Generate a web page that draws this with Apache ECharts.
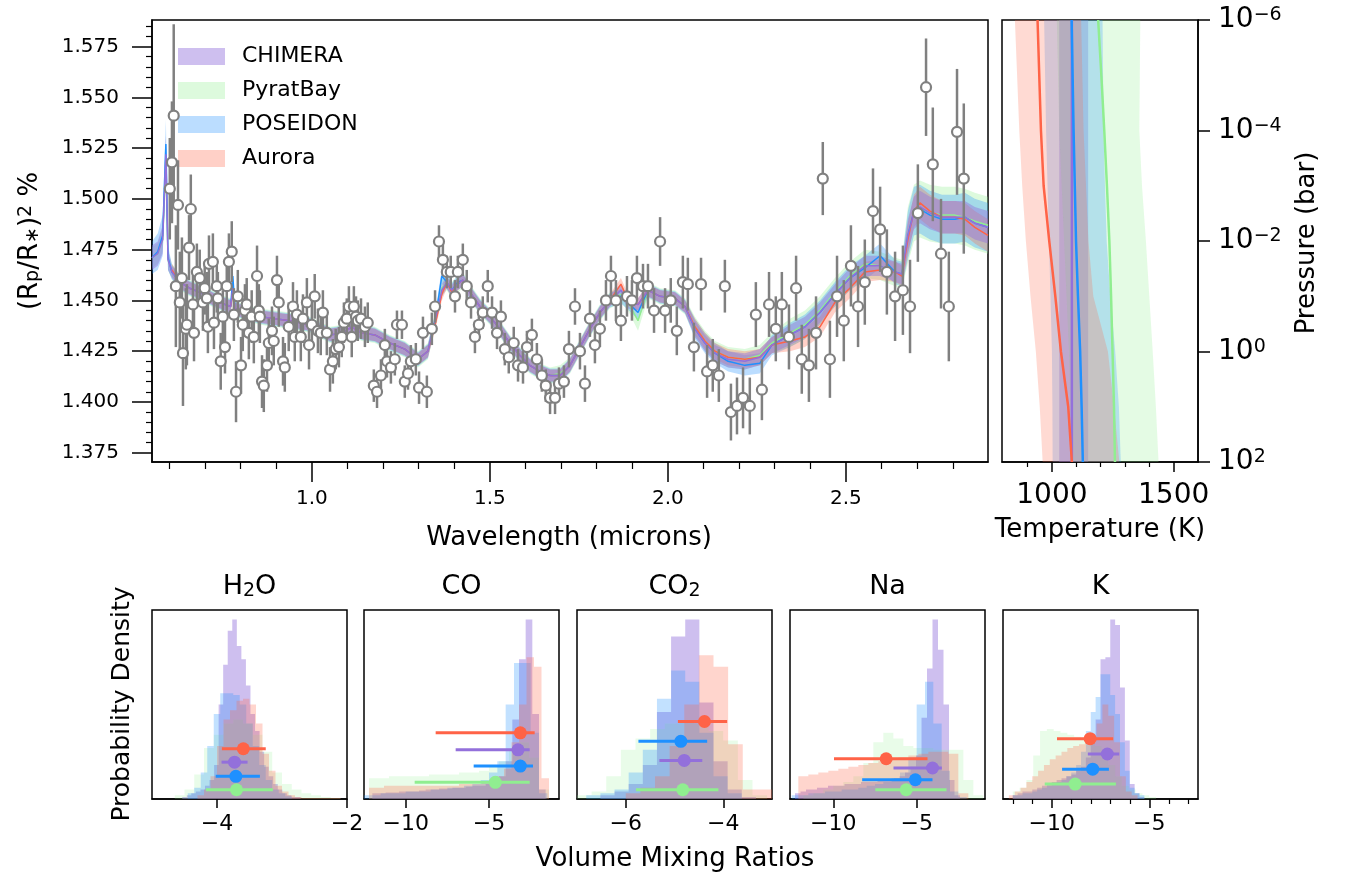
<!DOCTYPE html>
<html>
<head>
<meta charset="utf-8">
<title>Retrieval comparison</title>
<script src="https://cdn.jsdelivr.net/npm/echarts@6/dist/echarts.min.js"></script>
<style>
  html, body { margin: 0; padding: 0; background: #fff; }
  #chart { width: 1351px; height: 881px; }
</style>
</head>
<body>
<div id="chart"></div>
<script>
// ---- observed transmission spectrum ----
const obsWave = [
  0.601,0.607,0.612,0.618,0.624,0.629,0.635,0.638,0.646,0.649,
  0.655,0.660,0.666,0.669,0.677,0.685,0.694,0.699,0.705,0.708,
  0.711,0.722,0.725,0.733,0.736,0.744,0.750,0.756,0.761,0.767,
  0.775,0.781,0.787,0.792,0.801,0.806,0.812,0.817,0.823,0.831,
  0.837,0.846,0.851,0.854,0.860,0.865,0.874,0.879,0.888,0.893,
  0.902,0.907,0.919,0.924,0.935,0.947,0.952,0.958,0.969,0.975,
  0.986,0.992,1.000,1.008,1.017,1.025,1.031,1.042,1.051,1.059,
  1.067,1.076,1.084,1.090,1.098,1.104,1.112,1.118,1.124,1.129,
  1.138,1.149,1.157,1.174,1.183,1.194,1.205,1.211,1.222,1.233,
  1.239,1.253,1.261,1.270,1.278,1.292,1.301,1.312,1.323,1.337,
  1.346,1.357,1.368,1.379,1.390,1.402,1.410,1.424,1.435,1.447,
  1.458,1.469,1.480,1.494,1.506,1.520,1.531,1.542,1.553,1.567,
  1.579,1.593,1.604,1.618,1.632,1.646,1.657,1.669,1.683,1.694,
  1.708,1.722,1.739,1.753,1.767,1.781,1.795,1.809,1.826,1.840,
  1.854,1.868,1.885,1.899,1.913,1.930,1.944,1.961,1.978,1.992,
  2.008,2.025,2.042,2.056,2.073,2.093,2.110,2.126,2.143,2.160,
  2.177,2.194,2.211,2.230,2.247,2.264,2.284,2.303,2.320,2.340,
  2.360,2.376,2.396,2.416,2.435,2.455,2.475,2.494,2.514,2.534,
  2.553,2.576,2.596,2.615,2.638,2.660,2.680,2.702,2.725,2.744,
  2.767,2.789,2.812,2.831
];
const obsDepth = [
  1.505,1.518,1.541,1.457,1.497,1.449,1.461,1.424,1.436,1.438,
  1.476,1.495,1.448,1.434,1.464,1.461,1.449,1.456,1.451,1.437,
  1.468,1.469,1.439,1.457,1.451,1.420,1.442,1.427,1.457,1.469,
  1.474,1.443,1.405,1.452,1.418,1.438,1.445,1.448,1.434,1.442,
  1.432,1.462,1.445,1.442,1.410,1.408,1.418,1.429,1.435,1.430,
  1.460,1.449,1.420,1.417,1.437,1.447,1.432,1.443,1.432,1.441,
  1.449,1.428,1.438,1.452,1.435,1.434,1.444,1.434,1.416,1.420,
  1.426,1.427,1.432,1.439,1.441,1.447,1.432,1.447,1.442,1.440,
  1.441,1.437,1.439,1.408,1.405,1.413,1.428,1.420,1.417,1.421,
  1.438,1.438,1.410,1.414,1.420,1.421,1.407,1.434,1.405,1.436,
  1.447,1.479,1.470,1.464,1.464,1.452,1.464,1.470,1.457,1.449,
  1.432,1.438,1.444,1.457,1.444,1.434,1.442,1.426,1.422,1.429,
  1.418,1.417,1.427,1.433,1.421,1.413,1.408,1.402,1.402,1.409,
  1.410,1.426,1.447,1.425,1.409,1.441,1.428,1.436,1.450,1.462,
  1.450,1.440,1.452,1.450,1.461,1.457,1.457,1.445,1.479,1.445,
  1.450,1.435,1.459,1.458,1.427,1.458,1.415,1.418,1.413,1.457,
  1.395,1.398,1.402,1.398,1.443,1.406,1.448,1.436,1.448,1.432,
  1.456,1.421,1.418,1.434,1.510,1.421,1.452,1.440,1.467,1.447,
  1.459,1.494,1.485,1.464,1.452,1.455,1.447,1.493,1.555,1.517,
  1.473,1.447,1.533,1.510
];
const obsErr = [
  0.025,0.030,0.045,0.030,0.022,0.025,0.020,0.026,0.020,0.020,
  0.016,0.017,0.015,0.014,0.014,0.014,0.014,0.013,0.013,0.013,
  0.014,0.014,0.013,0.013,0.013,0.014,0.013,0.013,0.014,0.014,
  0.015,0.013,0.015,0.013,0.014,0.013,0.013,0.013,0.013,0.013,
  0.013,0.015,0.013,0.013,0.013,0.013,0.013,0.012,0.012,0.012,
  0.012,0.012,0.012,0.012,0.012,0.012,0.012,0.012,0.012,0.012,
  0.012,0.012,0.012,0.011,0.011,0.011,0.011,0.011,0.011,0.011,
  0.010,0.010,0.010,0.010,0.010,0.010,0.010,0.010,0.010,0.010,
  0.010,0.010,0.010,0.008,0.008,0.008,0.008,0.008,0.008,0.008,
  0.007,0.007,0.008,0.008,0.008,0.008,0.008,0.008,0.008,0.008,
  0.008,0.008,0.008,0.008,0.008,0.008,0.008,0.008,0.008,0.008,
  0.008,0.008,0.008,0.008,0.008,0.008,0.008,0.008,0.008,0.008,
  0.008,0.008,0.008,0.008,0.008,0.008,0.008,0.008,0.008,0.008,
  0.008,0.009,0.009,0.009,0.009,0.009,0.009,0.009,0.010,0.010,
  0.010,0.010,0.010,0.010,0.011,0.011,0.011,0.011,0.012,0.011,
  0.011,0.012,0.013,0.013,0.012,0.013,0.013,0.013,0.013,0.013,
  0.014,0.014,0.015,0.014,0.016,0.015,0.016,0.016,0.016,0.016,
  0.016,0.017,0.018,0.018,0.018,0.019,0.020,0.020,0.020,0.020,
  0.021,0.021,0.021,0.021,0.022,0.022,0.023,0.024,0.024,0.028,
  0.027,0.027,0.031,0.037
];

// ---- retrieved model spectra (median and 1-sigma half width) ----
const modelWave = [
  0.551,0.567,0.581,0.590,0.596,0.607,0.629,0.657,0.685,0.719,
  0.756,0.772,0.778,0.784,0.812,0.854,0.896,0.938,0.994,1.051,
  1.087,1.112,1.140,1.177,1.219,1.261,1.298,1.326,1.346,1.365,
  1.379,1.393,1.410,1.424,1.444,1.472,1.500,1.528,1.556,1.584,
  1.612,1.640,1.669,1.697,1.725,1.753,1.781,1.809,1.837,1.868,
  1.888,1.916,1.944,1.978,2.020,2.048,2.076,2.104,2.132,2.169,
  2.216,2.258,2.292,2.343,2.385,2.427,2.469,2.511,2.553,2.596,
  2.638,2.657,2.674,2.691,2.708,2.736,2.770,2.806,2.834,2.862,
  2.899
];
const chimeraMid = [
  1.471,1.473,1.480,1.522,1.470,1.464,1.459,1.456,1.454,1.451,
  1.448,1.447,1.456,1.446,1.444,1.442,1.441,1.440,1.438,1.433,
  1.434,1.437,1.434,1.433,1.429,1.426,1.421,1.425,1.440,1.455,
  1.459,1.455,1.458,1.460,1.454,1.447,1.442,1.436,1.429,1.423,
  1.418,1.415,1.413,1.413,1.418,1.427,1.436,1.444,1.450,1.455,
  1.449,1.448,1.455,1.452,1.451,1.447,1.436,1.429,1.424,1.421,
  1.420,1.422,1.428,1.433,1.437,1.444,1.453,1.461,1.467,1.467,
  1.464,1.463,1.482,1.493,1.496,1.493,1.491,1.491,1.491,1.488,
  1.486
];
const pyratMid = [
  1.471,1.473,1.480,1.518,1.470,1.464,1.459,1.456,1.454,1.451,
  1.448,1.447,1.455,1.446,1.444,1.442,1.441,1.440,1.438,1.433,
  1.434,1.437,1.434,1.433,1.429,1.426,1.421,1.425,1.440,1.456,
  1.459,1.455,1.458,1.460,1.454,1.447,1.442,1.436,1.429,1.423,
  1.418,1.415,1.413,1.414,1.418,1.427,1.436,1.444,1.450,1.453,
  1.449,1.440,1.455,1.452,1.451,1.447,1.437,1.430,1.425,1.422,
  1.421,1.423,1.429,1.434,1.438,1.445,1.454,1.462,1.468,1.467,
  1.464,1.463,1.482,1.493,1.495,1.493,1.492,1.492,1.491,1.489,
  1.487
];
const poseidonMid = [
  1.471,1.474,1.482,1.527,1.471,1.464,1.459,1.456,1.454,1.451,
  1.448,1.447,1.462,1.446,1.444,1.442,1.441,1.440,1.438,1.433,
  1.434,1.437,1.434,1.433,1.429,1.426,1.421,1.425,1.440,1.462,
  1.459,1.455,1.459,1.460,1.454,1.447,1.442,1.436,1.429,1.423,
  1.418,1.415,1.413,1.413,1.418,1.427,1.436,1.444,1.450,1.452,
  1.449,1.444,1.455,1.452,1.451,1.447,1.436,1.429,1.424,1.420,
  1.418,1.419,1.428,1.433,1.437,1.444,1.453,1.461,1.466,1.472,
  1.464,1.463,1.482,1.494,1.495,1.492,1.490,1.490,1.491,1.488,
  1.486
];
const auroraMid = [
  null,null,null,null,null,1.465,1.459,1.456,1.454,1.451,
  1.448,1.447,1.454,1.446,1.444,1.442,1.441,1.440,1.438,1.433,
  1.434,1.437,1.434,1.433,1.429,1.426,1.421,1.425,1.438,1.453,
  1.459,1.454,1.458,1.460,1.454,1.447,1.442,1.436,1.429,1.423,
  1.418,1.415,1.413,1.413,1.418,1.427,1.436,1.444,1.450,1.458,
  1.450,1.448,1.455,1.452,1.451,1.447,1.437,1.430,1.425,1.422,
  1.421,1.422,1.428,1.430,1.432,1.437,1.449,1.456,1.464,1.465,
  1.464,1.462,1.480,1.494,1.498,1.494,1.491,1.491,1.490,1.486,
  1.482
];
const chimeraW = [
  0.006,0.006,0.007,0.009,0.005,0.003,0.003,0.003,0.003,0.003,
  0.003,0.003,0.003,0.003,0.003,0.003,0.003,0.003,0.003,0.003,
  0.003,0.003,0.003,0.003,0.003,0.003,0.003,0.003,0.003,0.003,
  0.003,0.003,0.003,0.003,0.003,0.003,0.003,0.003,0.003,0.003,
  0.003,0.003,0.003,0.003,0.003,0.003,0.003,0.003,0.003,0.003,
  0.003,0.003,0.003,0.003,0.003,0.003,0.004,0.004,0.004,0.004,
  0.004,0.004,0.004,0.005,0.005,0.005,0.005,0.005,0.005,0.005,
  0.005,0.005,0.008,0.008,0.008,0.008,0.008,0.008,0.008,0.008,
  0.008
];
const pyratW = [
  0.005,0.005,0.006,0.008,0.005,0.004,0.004,0.004,0.004,0.004,
  0.004,0.004,0.004,0.004,0.004,0.004,0.004,0.004,0.004,0.004,
  0.004,0.004,0.004,0.004,0.004,0.004,0.004,0.004,0.004,0.004,
  0.004,0.004,0.004,0.004,0.004,0.004,0.004,0.004,0.004,0.004,
  0.004,0.004,0.004,0.004,0.004,0.004,0.004,0.004,0.004,0.004,
  0.004,0.005,0.004,0.004,0.004,0.004,0.005,0.005,0.005,0.005,
  0.005,0.005,0.005,0.007,0.007,0.007,0.007,0.007,0.007,0.007,
  0.007,0.007,0.014,0.014,0.014,0.014,0.014,0.014,0.014,0.014,
  0.014
];
const poseidonW = [
  0.008,0.009,0.010,0.012,0.006,0.0035,0.0035,0.0035,0.0035,0.0035,
  0.0035,0.0035,0.0035,0.0035,0.0035,0.0035,0.0035,0.0035,0.0035,0.0035,
  0.0035,0.0035,0.0035,0.0035,0.0035,0.0035,0.0035,0.0035,0.0035,0.0035,
  0.0035,0.0035,0.0035,0.0035,0.0035,0.0035,0.0035,0.0035,0.0035,0.0035,
  0.0035,0.0035,0.0035,0.0035,0.0035,0.0035,0.0035,0.0035,0.0035,0.0035,
  0.0035,0.0035,0.0035,0.0035,0.0035,0.0035,0.005,0.005,0.005,0.005,
  0.005,0.005,0.005,0.006,0.006,0.006,0.006,0.006,0.006,0.006,
  0.006,0.006,0.012,0.012,0.012,0.012,0.012,0.012,0.012,0.012,
  0.012
];
const auroraW = [
  null,null,null,null,null,0.003,0.003,0.003,0.003,0.003,
  0.003,0.003,0.003,0.003,0.003,0.003,0.003,0.003,0.003,0.003,
  0.003,0.003,0.003,0.003,0.003,0.003,0.003,0.003,0.003,0.003,
  0.003,0.003,0.003,0.003,0.003,0.003,0.003,0.003,0.003,0.003,
  0.003,0.003,0.003,0.003,0.003,0.003,0.003,0.003,0.003,0.003,
  0.003,0.003,0.003,0.003,0.003,0.003,0.004,0.004,0.004,0.004,
  0.004,0.004,0.004,0.005,0.005,0.005,0.005,0.005,0.005,0.005,
  0.005,0.005,0.008,0.008,0.008,0.008,0.008,0.008,0.008,0.008,
  0.008
];

// ---- temperature-pressure profiles (log10 P in bar) ----
const tpLogP = [-6, -5, -4, -3, -2, -1, 0, 1, 2];
const chimeraT   = [1082, 1082, 1082, 1082, 1082, 1082, 1082, 1082, 1082];
const chimeraTLo = [1030, 1030, 1030, 1030, 1030, 1030, 1030, 1030, 1030];
const chimeraTHi = [1149, 1149, 1149, 1149, 1149, 1149, 1149, 1149, 1149];
const pyratT     = [1190, 1203, 1215, 1226, 1236, 1243, 1249, 1255, 1259];
const pyratTLo   = [1020, 1025, 1030, 1040, 1050, 1060, 1070, 1075, 1080];
const pyratTHi   = [1363, 1361, 1359, 1370, 1386, 1400, 1414, 1427, 1438];
const poseidonT  = [1081, 1085, 1089, 1094, 1099, 1107, 1116, 1122, 1127];
const poseidonTLo = [968, 972, 976, 982, 988, 994, 1000, 1002, 1003];
const poseidonTHi = [1208, 1210, 1212, 1218, 1225, 1240, 1260, 1275, 1283];
const auroraT    = [941, 948, 955, 966, 989, 1014, 1037, 1067, 1082];
const auroraTLo  = [848, 857, 866, 878, 893, 912, 934, 950, 962];
const auroraTHi  = [1120, 1125, 1130, 1140, 1150, 1170, 1230, 1255, 1277];

// ---- posterior histograms: [first edge, bin width] + heights (fraction of panel) ----
// order inside each panel: CHIMERA, PyratBay, POSEIDON, Aurora
const h2oBins = [[-4.535, 0.07], [-4.65, 0.15], [-4.45, 0.1], [-4.3, 0.1]];
const h2oChimera = [0.01,0.02,0.03,0.04,0.05,0.07,0.10,0.18,0.50,0.71,0.89,0.95,0.81,0.74,0.60,0.45,0.36,0.25,0.17,0.12,0.08,0.05,0.03,0.02,0.01,0.01];
const h2oPyrat = [0.02,0.05,0.13,0.27,0.34,0.40,0.42,0.40,0.34,0.25,0.14,0.08,0.05,0.03,0.02,0.01,0.005];
const h2oPoseidon = [0.03,0.06,0.14,0.28,0.45,0.56,0.56,0.55,0.50,0.40,0.28,0.18,0.10,0.05,0.03,0.015];
const h2oAurora = [0.02,0.05,0.12,0.28,0.42,0.47,0.52,0.53,0.50,0.40,0.24,0.15,0.07,0.04,0.02,0.01,0.005,0.005,0.005,0.005,0.005,0.005];
const h2oMarks = [[-3.73, -3.93, -3.53, 0.195], [-3.70, -4.17, -3.14, 0.049], [-3.71, -4.02, -3.34, 0.12], [-3.595, -3.925, -3.25, 0.266]];

const coBins = [[-12.0, 0.4], [-12.2, 0.6], [-12.5, 0.5], [-12.2, 0.45]];
const coChimera = [0.03,0.03,0.035,0.035,0.04,0.04,0.04,0.045,0.05,0.05,0.055,0.055,0.06,0.06,0.065,0.07,0.07,0.08,0.10,0.12,0.20,0.42,0.74,0.95,0.45,0.05];
const coPyrat = [0.11,0.11,0.12,0.12,0.12,0.12,0.13,0.13,0.13,0.14,0.14,0.15,0.17,0.20,0.26,0.30,0.22,0.05];
const coPoseidon = [0.02,0.02,0.03,0.03,0.03,0.04,0.04,0.04,0.05,0.05,0.06,0.06,0.07,0.08,0.10,0.14,0.20,0.50,0.72,0.72,0.35,0.03];
const coAurora = [0.06,0.06,0.07,0.07,0.07,0.07,0.07,0.07,0.07,0.07,0.07,0.07,0.08,0.08,0.08,0.09,0.10,0.12,0.16,0.30,0.50,0.75,0.70,0.11];
const coMarks = [[-3.26, -7.0, -2.56, 0.26], [-4.62, -9.46, -2.56, 0.088], [-3.12, -5.92, -2.36, 0.174], [-3.12, -8.2, -2.26, 0.35]];

const co2Bins = [[-6.52, 0.29], [-7.0, 0.3], [-6.81, 0.29], [-6.0, 0.3]];
const co2Chimera = [0.02,0.04,0.08,0.18,0.46,0.86,0.95,0.51,0.20,0.05,0.01];
const co2Pyrat = [0.02,0.04,0.12,0.26,0.32,0.37,0.40,0.41,0.40,0.36,0.31,0.10,0.02];
const co2Poseidon = [0.02,0.03,0.05,0.14,0.26,0.53,0.68,0.62,0.35,0.12,0.03];
const co2Aurora = [0.03,0.06,0.12,0.28,0.50,0.76,0.70,0.29,0.05,0.05];
const co2Marks = [[-4.80, -5.31, -4.43, 0.204], [-4.83, -5.79, -4.10, 0.049], [-4.87, -5.74, -4.33, 0.305], [-4.385, -4.93, -3.92, 0.41]];

const naBins = [[-12.3, 0.33], [-11.8, 0.6], [-12.5, 0.5], [-12.1, 0.6]];
const naChimera = [0.03,0.04,0.05,0.05,0.06,0.06,0.07,0.07,0.07,0.08,0.08,0.08,0.09,0.09,0.09,0.10,0.10,0.10,0.11,0.12,0.14,0.17,0.23,0.43,0.69,0.95,0.79,0.50,0.10,0.02];
const naPyrat = [0.02,0.03,0.05,0.07,0.09,0.12,0.19,0.30,0.35,0.32,0.28,0.27,0.27,0.26,0.26,0.26,0.10,0.02];
const naPoseidon = [0.02,0.02,0.03,0.03,0.04,0.04,0.05,0.05,0.06,0.07,0.08,0.09,0.11,0.14,0.22,0.50,0.62,0.40,0.15,0.04,0.01];
const naAurora = [0.12,0.13,0.14,0.15,0.16,0.17,0.18,0.19,0.20,0.21,0.22,0.23,0.24,0.25,0.25,0.24,0.03];
const naMarks = [[-4.05, -6.39, -3.49, 0.164], [-5.63, -7.48, -3.21, 0.049], [-5.08, -8.27, -4.05, 0.102], [-6.83, -9.96, -4.35, 0.213]];

const kBins = [[-12.0, 0.25], [-12.0, 0.35], [-12.0, 0.25], [-12.2, 0.3]];
const kChimera = [0.02,0.03,0.04,0.04,0.05,0.06,0.07,0.08,0.09,0.10,0.11,0.12,0.13,0.15,0.17,0.22,0.30,0.42,0.74,0.75,0.95,0.92,0.59,0.31,0.08,0.03,0.01];
const kPyrat = [0.04,0.06,0.10,0.23,0.36,0.37,0.36,0.35,0.34,0.33,0.32,0.30,0.28,0.24,0.18,0.12,0.07,0.05,0.03,0.02,0.01];
const kPoseidon = [0.02,0.02,0.03,0.03,0.04,0.05,0.06,0.07,0.08,0.09,0.10,0.12,0.14,0.18,0.25,0.36,0.46,0.54,0.66,0.66,0.55,0.45,0.30,0.15,0.06,0.03,0.02];
const kAurora = [0.02,0.04,0.06,0.09,0.12,0.15,0.18,0.21,0.23,0.25,0.27,0.28,0.29,0.30,0.33,0.40,0.50,0.44,0.30,0.12,0.04,0.02];
const kMarks = [[-7.15, -8.15, -6.54, 0.238], [-8.8, -10.36, -6.71, 0.079], [-7.9, -9.47, -7.07, 0.158], [-8.03, -9.73, -6.85, 0.319]];

// ---- labels / ticks ----
const modelNames = ['CHIMERA', 'PyratBay', 'POSEIDON', 'Aurora'];
const modelColors = ['#9370DB', '#90EE90', '#1E90FF', '#FF6347'];
const fillAlpha = [0.45, 0.3, 0.3, 0.3];
const histAlpha = [0.45, 0.2, 0.27, 0.27];
const histTitles = ['H{sub|2}O', 'CO', 'CO{sub|2}', 'Na', 'K'];
const histRanges = [[-5, -2], [-12.5, -0.8], [-7, -3], [-12.6, -0.9], [-12.5, -2.5]];
const histTicks = [[-4, -2], [-10, -5], [-6, -4], [-10, -5], [-10, -5]];
const kMinorTicks = [-12, -11, -9, -8, -7, -6, -4, -3];
const waveTicks = [1.0, 1.5, 2.0, 2.5];
const waveMinor = [0.6, 0.7, 0.8, 0.9, 1.1, 1.2, 1.3, 1.4, 1.6, 1.7, 1.8, 1.9, 2.1, 2.2, 2.3, 2.4, 2.6, 2.7, 2.8];
const depthTicks = [1.375, 1.400, 1.425, 1.450, 1.475, 1.500, 1.525, 1.550, 1.575];
const tempTicks = [1000, 1500];
const tempMinor = [900, 1100, 1200, 1300, 1400];
const pressTicks = [-6, -4, -2, 0, 2];

const FONT = 'DejaVu Sans';
const chart = echarts.init(document.getElementById('chart'));

function rgba(hex, a) {
  const n = parseInt(hex.slice(1), 16);
  return 'rgba(' + (n >> 16) + ',' + ((n >> 8) & 255) + ',' + (n & 255) + ',' + a + ')';
}
const minus = v => (v < 0 ? '\u2212' : '') + Math.abs(v);

// minor ticks between depth labels, every 0.005
const depthMinor = [];
for (let k = 0; k <= 42; k++) {
  const v = +(1.375 + k * 0.005).toFixed(3);
  if (k % 5 !== 0 && v < 1.588) depthMinor.push(v);
}

// grids
const grid = [
  { left: 152, top: 20, width: 836, height: 442 },
  { left: 1002, top: 20, width: 196, height: 442 }
];
const histLeft = [152, 364, 577, 790, 1003];
histLeft.forEach(l => grid.push({ left: l, top: 610, width: 195, height: 189 }));
grid.forEach(g => Object.assign(g, { show: true, borderColor: '#000', borderWidth: 1.5 }));

function axis(gridIndex, min, max, ticks, tickLen, fontSize, margin, fmt, extra) {
  return Object.assign({
    type: 'value', gridIndex, min, max,
    axisLine: { show: true, onZero: false, lineStyle: { color: '#000', width: 1.5 } },
    axisTick: { show: true, customValues: ticks, length: tickLen, lineStyle: { color: '#000', width: 1.5 } },
    axisLabel: { show: !!fmt, customValues: ticks, formatter: fmt, fontSize, margin, color: '#000', fontFamily: FONT },
    splitLine: { show: false }
  }, extra || {});
}
function minorAxis(gridIndex, min, max, ticks, position, len) {
  return {
    type: 'value', gridIndex, min, max, position,
    axisLine: { show: false, onZero: false }, axisLabel: { show: false },
    axisTick: { show: true, customValues: ticks, length: len || 6, lineStyle: { color: '#000', width: 1.2 } },
    splitLine: { show: false }
  };
}

const xAxis = [
  axis(0, 0.551, 2.899, waveTicks, 20, 20, 27, v => v.toFixed(1), { position: 'bottom' }),
  minorAxis(0, 0.551, 2.899, waveMinor, 'bottom', 7),
  axis(1, 795, 1600, tempTicks, 10, 28, 20, v => String(v), { position: 'bottom' }),
  minorAxis(1, 795, 1600, tempMinor, 'bottom', 5)
];
histRanges.forEach((r, i) => {
  xAxis.push(axis(2 + i, r[0], r[1], histTicks[i], 9, 22, 14, minus, { position: 'bottom' }));
});
xAxis.push(minorAxis(6, -12.5, -2.5, kMinorTicks, 'bottom', 5));

const yAxis = [
  axis(0, 1.3704, 1.5881, depthTicks, 20, 20, 33, v => v.toFixed(3), { position: 'left' }),
  minorAxis(0, 1.3704, 1.5881, depthMinor, 'left', 6),
  axis(1, -6, 2, pressTicks, 12, 28, 20, v => '10{sup|' + minus(v) + '}', {
    position: 'right', inverse: true
  })
];
yAxis[2].axisLabel.rich = { sup: { fontSize: 19, fontFamily: FONT, color: '#000', verticalAlign: 'top' } };
for (let i = 0; i < 5; i++) {
  yAxis.push({ type: 'value', gridIndex: 2 + i, min: 0, max: 1, axisLine: { show: false },
    axisTick: { show: false }, axisLabel: { show: false }, splitLine: { show: false } });
}

function polygonSeries(name, xi, yi, outline, fill, z) {
  return {
    type: 'custom', name, xAxisIndex: xi, yAxisIndex: yi, z, silent: true, clip: true,
    data: [outline[0]],
    renderItem: (params, api) => ({
      type: 'polygon',
      shape: { points: outline.map(p => api.coord(p)) },
      style: { fill }
    })
  };
}

const series = [];

// spectrum bands + medians
const mids = [chimeraMid, pyratMid, poseidonMid, auroraMid];
const widths = [chimeraW, pyratW, poseidonW, auroraW];
[1, 2, 3, 0].forEach((m, k) => {
  const lo = [], hi = [];
  modelWave.forEach((w, i) => {
    if (mids[m][i] == null) return;
    lo.push([w, mids[m][i] - widths[m][i]]);
    hi.push([w, mids[m][i] + widths[m][i]]);
  });
  series.push(polygonSeries(modelNames[m], 0, 0, lo.concat(hi.reverse()), rgba(modelColors[m], fillAlpha[m]), 2 + k));
});
[1, 2, 3, 0].forEach(m => {
  const pts = [];
  modelWave.forEach((w, i) => { if (mids[m][i] != null) pts.push([w, mids[m][i]]); });
  series.push({
    type: 'line', name: modelNames[m], xAxisIndex: 0, yAxisIndex: 0, z: 7, silent: true,
    data: pts, showSymbol: false, symbol: 'none',
    lineStyle: { color: modelColors[m], width: 1.5 }
  });
});

// observations
series.push({
  type: 'custom', xAxisIndex: 0, yAxisIndex: 0, z: 9, silent: true, clip: true,
  data: obsWave.map((w, i) => [w, obsDepth[i] - obsErr[i], obsDepth[i] + obsErr[i]]),
  encode: { x: 0, y: [1, 2] },
  renderItem: (params, api) => {
    const a = api.coord([api.value(0), api.value(1)]);
    const b = api.coord([api.value(0), api.value(2)]);
    return { type: 'line', shape: { x1: a[0], y1: a[1], x2: b[0], y2: b[1] },
      style: { stroke: '#808080', lineWidth: 2.5 } };
  }
});
series.push({
  type: 'scatter', xAxisIndex: 0, yAxisIndex: 0, z: 10, silent: true,
  data: obsWave.map((w, i) => [w, obsDepth[i]]),
  symbol: 'circle', symbolSize: 10,
  itemStyle: { color: '#fff', borderColor: '#808080', borderWidth: 2.2, opacity: 1 }
});

// T-P panel
const tpMid = [chimeraT, pyratT, poseidonT, auroraT];
const tpLo = [chimeraTLo, pyratTLo, poseidonTLo, auroraTLo];
const tpHi = [chimeraTHi, pyratTHi, poseidonTHi, auroraTHi];
modelNames.forEach((name, m) => {
  const lo = tpLogP.map((p, i) => [tpLo[m][i], p]);
  const hi = tpLogP.map((p, i) => [tpHi[m][i], p]).reverse();
  series.push(polygonSeries(name, 2, 2, lo.concat(hi), rgba(modelColors[m], fillAlpha[m] * 0.8), 2 + m));
});
modelNames.forEach((name, m) => {
  series.push({
    type: 'line', name, xAxisIndex: 2, yAxisIndex: 2, z: 7 + m, silent: true,
    data: tpLogP.map((p, i) => [tpMid[m][i], p]), showSymbol: false, symbol: 'none',
    lineStyle: { color: modelColors[m], width: 2.5 }
  });
});

// histograms
const histData = [
  [h2oBins, [h2oChimera, h2oPyrat, h2oPoseidon, h2oAurora], h2oMarks],
  [coBins, [coChimera, coPyrat, coPoseidon, coAurora], coMarks],
  [co2Bins, [co2Chimera, co2Pyrat, co2Poseidon, co2Aurora], co2Marks],
  [naBins, [naChimera, naPyrat, naPoseidon, naAurora], naMarks],
  [kBins, [kChimera, kPyrat, kPoseidon, kAurora], kMarks]
];
histData.forEach((panel, p) => {
  const xi = 4 + p, yi = 3 + p;
  const bins = panel[0], heights = panel[1], marks = panel[2];
  modelNames.forEach((name, m) => {
    const s = bins[m][0], bw = bins[m][1];
    const pts = [[s, 0]];
    heights[m].forEach((h, i) => { pts.push([s + i * bw, h]); pts.push([s + (i + 1) * bw, h]); });
    pts.push([s + heights[m].length * bw, 0]);
    series.push(polygonSeries(name, xi, yi, pts, rgba(modelColors[m], histAlpha[m]), 2 + m));
  });
  modelNames.forEach((name, m) => {
    const color = modelColors[m];
    series.push({
      type: 'custom', name, xAxisIndex: xi, yAxisIndex: yi, z: 10, silent: true,
      data: [marks[m]], encode: { x: [0, 1, 2], y: 3 },
      renderItem: (params, api) => {
        const c = api.coord([api.value(0), api.value(3)]);
        const a = api.coord([api.value(1), api.value(3)]);
        const b = api.coord([api.value(2), api.value(3)]);
        return { type: 'group', children: [
          { type: 'line', shape: { x1: a[0], y1: a[1], x2: b[0], y2: b[1] }, style: { stroke: color, lineWidth: 3 } },
          { type: 'circle', shape: { cx: c[0], cy: c[1], r: 6.5 }, style: { fill: color } }
        ] };
      }
    });
  });
});

function label(x, y, text, size, rot, rich) {
  return {
    type: 'text', x, y, rotation: rot || 0, silent: true,
    style: {
      text, fontSize: size, fontFamily: FONT, fill: '#000',
      align: 'center', verticalAlign: 'middle', textAlign: 'center', textVerticalAlign: 'middle',
      rich: rich || {}
    }
  };
}
const subSup = {
  sub: { fontSize: 19, fontFamily: FONT, fill: '#000', color: '#000', verticalAlign: 'bottom' },
  sup: { fontSize: 19, fontFamily: FONT, fill: '#000', color: '#000', verticalAlign: 'top' }
};
const graphic = [
  label(30, 241, '(R{sub|p}/R{sub|\u2217}){sup|2} %', 26, Math.PI / 2, subSup),
  label(569, 538, 'Wavelength (microns)', 26),
  label(1100, 530, 'Temperature (K)', 26),
  label(1307, 243, 'Pressure (bar)', 26, Math.PI / 2),
  label(122, 704, 'Probability Density', 25, Math.PI / 2),
  label(675, 859, 'Volume Mixing Ratios', 26)
];
histTitles.forEach((t, i) => graphic.push(label(histLeft[i] + 97.5, 587, t, 27, 0, subSup)));

chart.setOption({
  animation: false,
  textStyle: { fontFamily: FONT },
  grid, xAxis, yAxis, series, graphic,
  legend: {
    left: 173, top: 40, orient: 'vertical', icon: 'rect',
    itemWidth: 47, itemHeight: 17, itemGap: 11, selectedMode: false,
    textStyle: { fontSize: 22, color: '#000', fontFamily: FONT, lineHeight: 23, padding: [0, 0, 0, 12] },
    data: modelNames.map((n, i) => ({ name: n, itemStyle: { color: rgba(modelColors[i], fillAlpha[i]) } }))
  }
});
window.addEventListener('resize', () => chart.resize());
</script>
</body>
</html>
